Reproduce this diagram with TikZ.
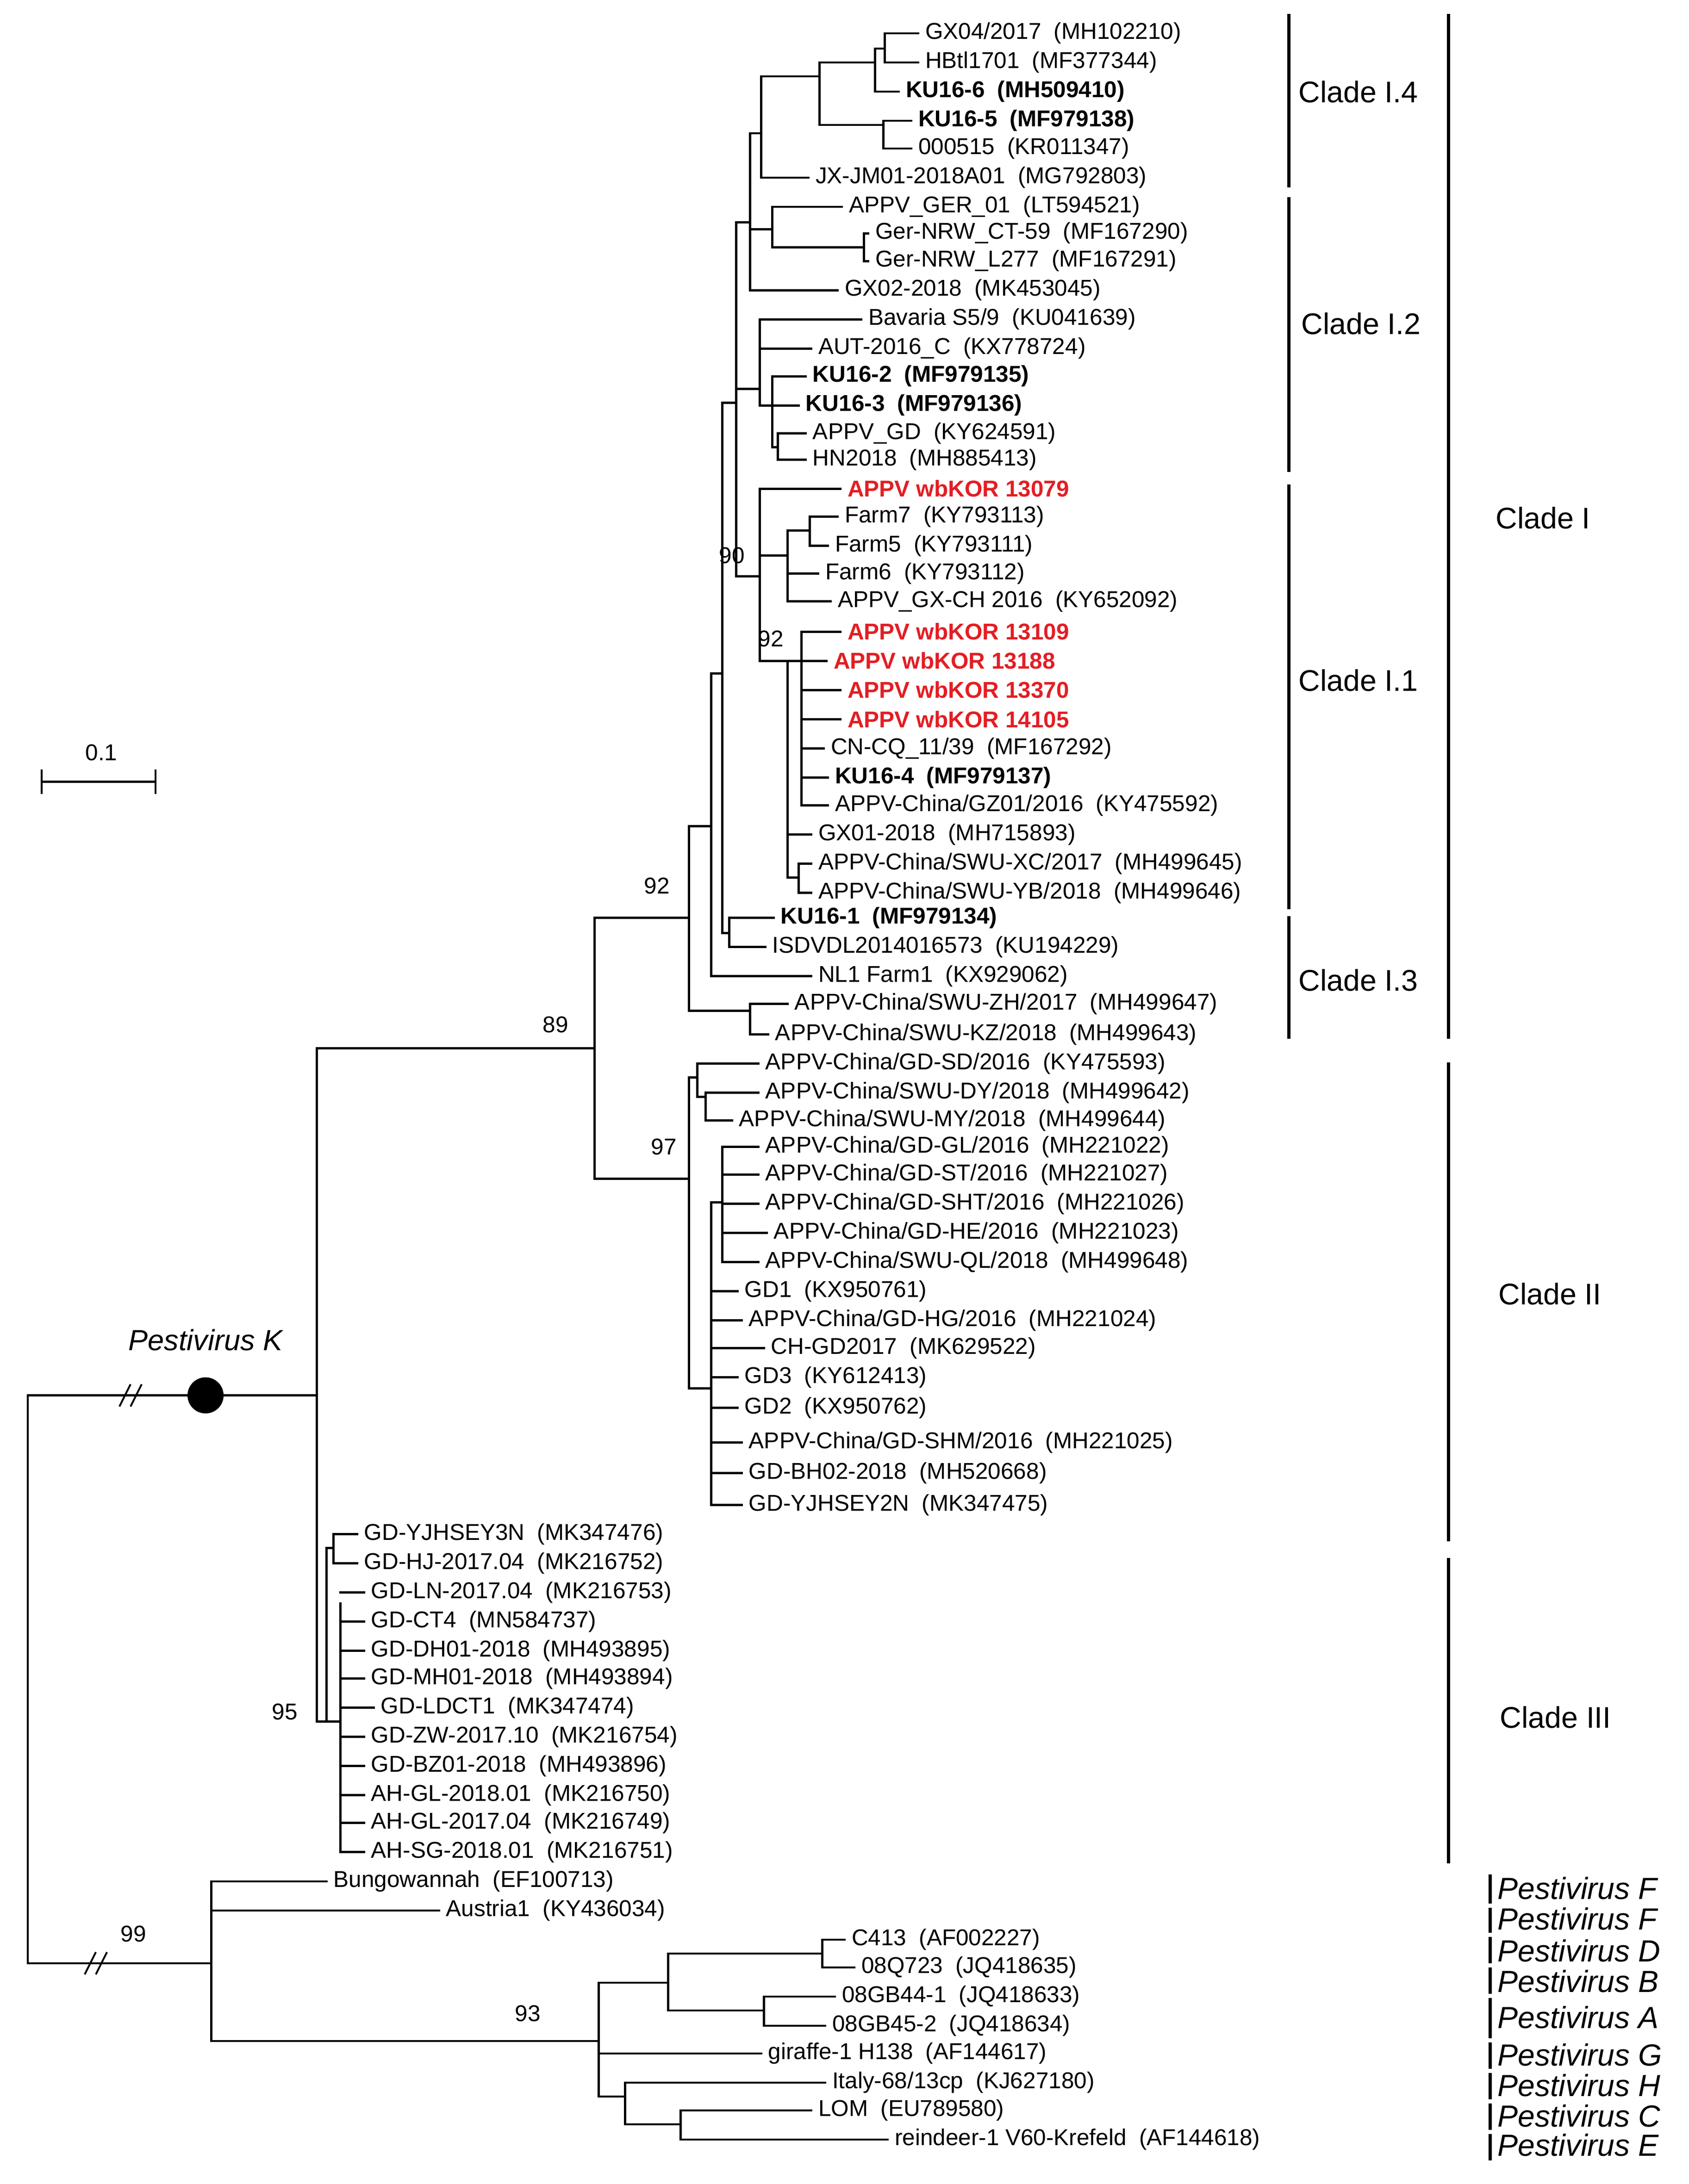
\documentclass[tikz,border=0pt]{standalone}
\usepackage{fontspec}
\setmainfont{Liberation Sans}
\definecolor{kred}{HTML}{E31E24}
\newcommand\lf[5]{\node[leaf] (#1) at (#2-5,#3) {#4}; \draw[br] (#5,#3) -- (#1.west);}
\newcommand\vl[3]{\draw[br] (#1,#2) -- (#1,#3);}
\newcommand\hl[3]{\draw[br] (#1,#3) -- (#2,#3);}
\newcommand\ac[2]{#1\hspace{0.55em}(#2)}
\newcommand\bac[2]{\textbf{#1\hspace{0.55em}(#2)}}
\newcommand\rk[1]{\textcolor{kred}{\textbf{APPV wbKOR #1}}}
\begin{document}
\begin{tikzpicture}[x=1pt,y=-1pt,
 br/.style={line width=1.6pt,line cap=rect},
 leaf/.style={anchor=west,inner xsep=5pt,inner ysep=0pt,font=\fontsize{16.5}{18}\selectfont},
 bs/.style={font=\fontsize{16.5}{18}\selectfont},
 cl/.style={font=\fontsize{21.5}{24}\selectfont},
 pl/.style={font=\fontsize{22}{24}\selectfont\itshape,anchor=west,inner xsep=0pt},
 bar/.style={line width=2.4pt}]
\useasboundingbox (0,0) rectangle (1216,1573);
% scale bar
\draw[br] (30,563) -- (112,563); \draw[br] (30,555)--(30,571); \draw[br](112,555)--(112,571);
\node[bs] (sc) at (73,542) {0.1};
% root
\vl{20}{1005}{1414}
\hl{20}{228}{1005}
\hl{20}{152}{1414}
\draw[line width=1.3pt] (86,1013)--(94,997) (94,1013)--(102,997);
\draw[line width=1.3pt] (61,1422)--(69,1406) (69,1422)--(77,1406);
\fill (148,1005) circle (13);
\node[font=\fontsize{21}{23}\selectfont\itshape] (pk) at (148,965) {Pestivirus K};
\node[bs] (b99) at (96,1393) {99};
% node A
\vl{228}{755}{1240}
\hl{228}{428}{755} \node[bs] (b89) at (400,738) {89};
\vl{428}{661}{849}
\hl{428}{496}{661} \node[bs] (b92a) at (473,638) {92};
\hl{428}{496}{849} \node[bs] (b97) at (478,826) {97};
% clade I
\vl{496}{595}{728}
\hl{496}{512}{595}
\hl{496}{540}{728}
\vl{540}{723}{745}
\lf{l35}{572}{723}{\ac{APPV-China/SWU-ZH/2017}{MH499647}}{540}
\lf{l36}{558}{745}{\ac{APPV-China/SWU-KZ/2018}{MH499643}}{540}
\vl{512}{485}{703}
\hl{512}{520}{485}
\lf{l34}{589}{703}{\ac{NL1 Farm1}{KX929062}}{512}
\vl{520}{290}{672}
\hl{520}{530}{290}
\hl{520}{525}{672}
\vl{525}{661}{682}
\lf{l32}{562}{661}{\bac{KU16-1}{MF979134}}{525}
\lf{l33}{556}{682}{\ac{ISDVDL2014016573}{KU194229}}{525}
\vl{530}{160}{415}
\node[bs] (b90) at (527,400) {90};
\hl{530}{540}{160}
\hl{530}{547}{280}
\hl{530}{547}{415}
% I.4 + upper I.2
\vl{540}{96}{209}
\hl{540}{548}{96}
\hl{540}{556}{165}
\lf{l10}{608}{209}{\ac{GX02-2018}{MK453045}}{540}
\vl{548}{55}{128}
\hl{548}{590}{55}
\lf{l6}{587}{128}{\ac{JX-JM01-2018A01}{MG792803}}{548}
\vl{590}{45}{90}
\hl{590}{630}{45}
\hl{590}{636}{90}
\vl{630}{35}{66}
\hl{630}{637}{35}
\lf{l3}{652}{66}{\bac{KU16-6}{MH509410}}{630}
\vl{637}{24}{45}
\lf{l1}{666}{24}{\ac{GX04/2017}{MH102210}}{637}
\lf{l2}{666}{45}{\ac{HBtl1701}{MF377344}}{637}
\vl{636}{87}{107}
\lf{l4}{661}{87}{\bac{KU16-5}{MF979138}}{636}
\lf{l5}{661}{107}{\ac{000515}{KR011347}}{636}
\vl{556}{149}{178}
\lf{l7}{611}{149}{\ac{APPV\_GER\_01}{LT594521}}{556}
\hl{556}{622}{178}
\vl{622}{168}{188}
\lf{l8}{630}{168}{\ac{Ger-NRW\_CT-59}{MF167290}}{622}
\lf{l9}{630}{188}{\ac{Ger-NRW\_L277}{MF167291}}{622}
% lower I.2
\vl{547}{230}{292}
\lf{l11}{625}{230}{\ac{Bavaria S5/9}{KU041639}}{547}
\lf{l12}{589}{251}{\ac{AUT-2016\_C}{KX778724}}{547}
\hl{547}{556}{292}
\vl{556}{271}{322}
\lf{l13}{585}{271}{\bac{KU16-2}{MF979135}}{556}
\lf{l14}{580}{292}{\bac{KU16-3}{MF979136}}{556}
\hl{556}{560}{322}
\vl{560}{312}{331}
\lf{l15}{585}{312}{\ac{APPV\_GD}{KY624591}}{560}
\lf{l16}{585}{331}{\ac{HN2018}{MH885413}}{560}
% I.1
\vl{547}{352}{476}
\lf{l17}{610}{352}{\rk{13079}}{547}
\hl{547}{567}{400}
\vl{567}{382}{433}
\hl{567}{583}{382}
\vl{583}{372}{393}
\lf{l18}{608}{372}{\ac{Farm7}{KY793113}}{583}
\lf{l19}{601}{393}{\ac{Farm5}{KY793111}}{583}
\lf{l20}{594}{413}{\ac{Farm6}{KY793112}}{567}
\lf{l21}{603}{433}{\ac{APPV\_GX-CH 2016}{KY652092}}{567}
\hl{547}{567}{476}
\node[bs] (b92b) at (555,460) {92};
\vl{567}{476}{632}
\hl{567}{577}{476}
\vl{577}{455}{580}
\lf{l22}{610}{455}{\rk{13109}}{577}
\lf{l23}{600}{476}{\rk{13188}}{577}
\lf{l24}{610}{497}{\rk{13370}}{577}
\lf{l25}{610}{518}{\rk{14105}}{577}
\lf{l26}{598}{539}{\ac{CN-CQ\_11/39}{MF167292}}{577}
\lf{l27}{601}{560}{\bac{KU16-4}{MF979137}}{577}
\lf{l28}{601}{580}{\ac{APPV-China/GZ01/2016}{KY475592}}{577}
\lf{l29}{589}{601}{\ac{GX01-2018}{MH715893}}{567}
\hl{567}{575}{632}
\vl{575}{622}{643}
\lf{l30}{589}{622}{\ac{APPV-China/SWU-XC/2017}{MH499645}}{575}
\lf{l31}{589}{643}{\ac{APPV-China/SWU-YB/2018}{MH499646}}{575}
% clade II
\vl{496}{776}{1000}
\hl{496}{502}{776}
\vl{502}{766}{790}
\lf{l37}{551}{766}{\ac{APPV-China/GD-SD/2016}{KY475593}}{502}
\hl{502}{508}{790}
\vl{508}{787}{807}
\lf{l38}{551}{787}{\ac{APPV-China/SWU-DY/2018}{MH499642}}{508}
\lf{l39}{532}{807}{\ac{APPV-China/SWU-MY/2018}{MH499644}}{508}
\hl{496}{512}{1000}
\vl{512}{866}{1084}
\hl{512}{520}{866}
\vl{520}{826}{909}
\lf{l40}{551}{826}{\ac{APPV-China/GD-GL/2016}{MH221022}}{520}
\lf{l41}{551}{846}{\ac{APPV-China/GD-ST/2016}{MH221027}}{520}
\lf{l42}{551}{867}{\ac{APPV-China/GD-SHT/2016}{MH221026}}{520}
\lf{l43}{557}{888}{\ac{APPV-China/GD-HE/2016}{MH221023}}{520}
\lf{l44}{551}{909}{\ac{APPV-China/SWU-QL/2018}{MH499648}}{520}
\lf{l45}{536}{930}{\ac{GD1}{KX950761}}{512}
\lf{l46}{539}{951}{\ac{APPV-China/GD-HG/2016}{MH221024}}{512}
\lf{l47}{555}{971}{\ac{CH-GD2017}{MK629522}}{512}
\lf{l48}{536}{992}{\ac{GD3}{KY612413}}{512}
\lf{l49}{536}{1014}{\ac{GD2}{KX950762}}{512}
\lf{l50}{539}{1039}{\ac{APPV-China/GD-SHM/2016}{MH221025}}{512}
\lf{l51}{539}{1061}{\ac{GD-BH02-2018}{MH520668}}{512}
\lf{l52}{539}{1084}{\ac{GD-YJHSEY2N}{MK347475}}{512}
% clade III
\hl{228}{235}{1240}
\node[bs] (b95) at (205,1233) {95};
\vl{235}{1115}{1240}
\hl{235}{240}{1115}
\vl{240}{1105}{1126}
\lf{l53}{262}{1105}{\ac{GD-YJHSEY3N}{MK347476}}{240}
\lf{l54}{262}{1126}{\ac{GD-HJ-2017.04}{MK216752}}{240}
\hl{235}{245}{1240}
\vl{245}{1155}{1334}
\lf{l55}{267}{1147}{\ac{GD-LN-2017.04}{MK216753}}{245}
\lf{l56}{267}{1168}{\ac{GD-CT4}{MN584737}}{245}
\lf{l57}{267}{1189}{\ac{GD-DH01-2018}{MH493895}}{245}
\lf{l58}{267}{1209}{\ac{GD-MH01-2018}{MH493894}}{245}
\lf{l59}{274}{1230}{\ac{GD-LDCT1}{MK347474}}{245}
\lf{l60}{267}{1251}{\ac{GD-ZW-2017.10}{MK216754}}{245}
\lf{l61}{267}{1272}{\ac{GD-BZ01-2018}{MH493896}}{245}
\lf{l62}{267}{1293}{\ac{AH-GL-2018.01}{MK216750}}{245}
\lf{l63}{267}{1313}{\ac{AH-GL-2017.04}{MK216749}}{245}
\lf{l64}{267}{1334}{\ac{AH-SG-2018.01}{MK216751}}{245}
% other pestiviruses
\vl{152}{1355}{1470}
\lf{l65}{240}{1355}{\ac{Bungowannah}{EF100713}}{152}
\lf{l66}{321}{1376}{\ac{Austria1}{KY436034}}{152}
\hl{152}{431}{1470}
\node[bs] (b93) at (380,1450) {93};
\vl{431}{1428}{1510}
\hl{431}{481}{1428}
\vl{481}{1407}{1448}
\hl{481}{592}{1407}
\vl{592}{1397}{1417}
\lf{l67}{613}{1397}{\ac{C413}{AF002227}}{592}
\lf{l68}{620}{1417}{\ac{08Q723}{JQ418635}}{592}
\hl{481}{550}{1448}
\vl{550}{1438}{1459}
\lf{l69}{606}{1438}{\ac{08GB44-1}{JQ418633}}{550}
\lf{l70}{599}{1459}{\ac{08GB45-2}{JQ418634}}{550}
\lf{l71}{553}{1479}{\ac{giraffe-1 H138}{AF144617}}{431}
\hl{431}{450}{1510}
\vl{450}{1500}{1530}
\lf{l72}{599}{1500}{\ac{Italy-68/13cp}{KJ627180}}{450}
\hl{450}{490}{1530}
\vl{490}{1520}{1541}
\lf{l73}{589}{1520}{\ac{LOM}{EU789580}}{490}
\lf{l74}{644}{1541}{\ac{reindeer-1 V60-Krefeld}{AF144618}}{490}
% clade bars
\draw[bar] (928,10)--(928,135); \node[cl] (c14) at (978,66) {Clade I.4};
\draw[bar] (928,142)--(928,340); \node[cl] (c12) at (980,233) {Clade I.2};
\draw[bar] (928,349)--(928,655); \node[cl] (c11) at (978,490) {Clade I.1};
\draw[bar] (928,660)--(928,748); \node[cl] (c13) at (978,706) {Clade I.3};
\draw[bar] (1043,10)--(1043,748); \node[cl] (cI) at (1111,373) {Clade I};
\draw[bar] (1043,765)--(1043,1110); \node[cl] (cII) at (1116,932) {Clade II};
\draw[bar] (1043,1122)--(1043,1342); \node[cl] (cIII) at (1120,1237) {Clade III};
\foreach \a/\b in {1350/1371,1374/1392,1395/1414,1417/1436,1439/1468,1471/1490,1493/1512,1515/1534,1537/1556}
  \draw[bar] (1073,\a)--(1073,\b);
\node[pl] (p1) at (1078,1360) {Pestivirus F};
\node[pl] (p2) at (1078,1382) {Pestivirus F};
\node[pl] (p3) at (1078,1405) {Pestivirus D};
\node[pl] (p4) at (1078,1427) {Pestivirus B};
\node[pl] (p5) at (1078,1453) {Pestivirus A};
\node[pl] (p6) at (1078,1480) {Pestivirus G};
\node[pl] (p7) at (1078,1502) {Pestivirus H};
\node[pl] (p8) at (1078,1524) {Pestivirus C};
\node[pl] (p9) at (1078,1545) {Pestivirus E};
\end{tikzpicture}
\end{document}
